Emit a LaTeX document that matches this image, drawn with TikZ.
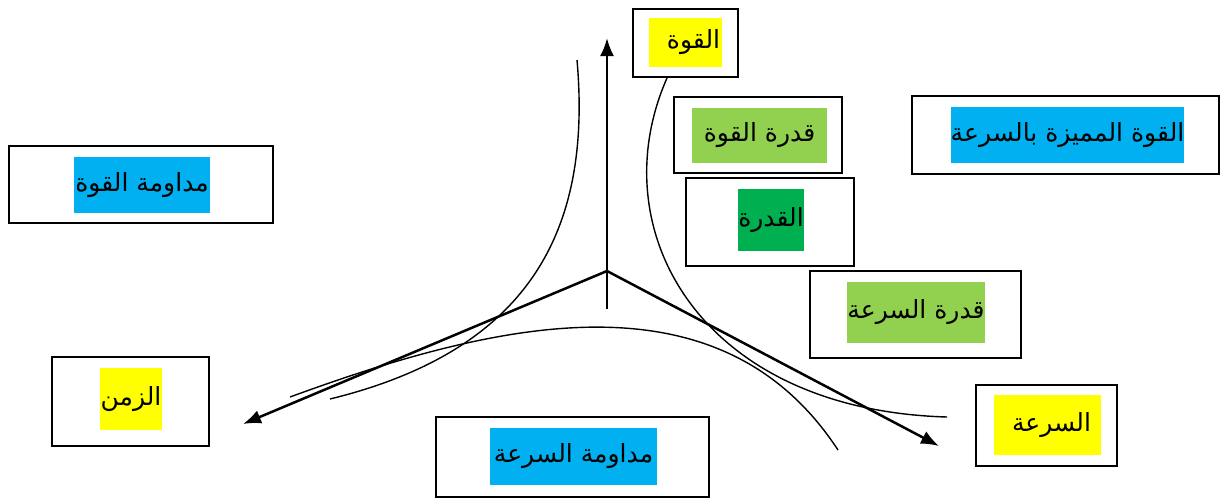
\documentclass[tikz,border=0pt]{standalone}
\usepackage{fontspec}
\usepackage{xcolor}
\usetikzlibrary{arrows.meta}
\TeXXeTstate=1
\newfontfamily\arabicfont[Script=Arabic]{DejaVu Sans}
\definecolor{hlyellow}{HTML}{FFFF00}
\definecolor{hllime}{HTML}{92D050}
\definecolor{hlgreen}{HTML}{00B050}
\definecolor{hlcyan}{HTML}{00B0F0}

\tikzset{
  frame/.style 2 args={draw, line width=1pt, minimum width=#1, minimum height=#2, inner sep=0pt},
  hilite/.style n args={3}{fill=#1, minimum width=#2, minimum height=#3, inner sep=0pt,
    font=\arabicfont\fontsize{12.5}{15}\selectfont},
  axis/.style={line width=1.25pt, -{Latex[length=9pt,width=7pt]}},
  curve/.style={line width=0.7pt}
}

\begin{document}
\begin{tikzpicture}[x=0.5pt, y=-0.5pt]
                  \useasboundingbox (0, 0) rectangle (1224, 498);

                  \coordinate (O) at (607, 271);
                  \coordinate (foot) at (607, 309);
                  \coordinate (up) at (607, 38);
                  \coordinate (left) at (243, 424);
                  \coordinate (right) at (939, 446);

                  \draw[curve] (577, 60) .. controls (592, 230) and (530, 350) .. (330, 399);
                  \draw[curve] (290, 397) .. controls (500, 320) and (720, 270) .. (838, 450);
                  \draw[curve] (667, 78) .. controls (600, 230) and (700, 410) .. (947, 417);

                  \draw[axis] (foot) -- (up);
                  \draw[axis] (O) -- (left);
                  \draw[axis] (O) -- (right);

                  \node[frame={52.5pt}{34pt}] (kuwwa) at (685.5, 43) {};
                  \node[hilite={hlyellow}{36.5pt}{24.5pt}] (kuwwaT) at (685.5, 42.5) {\hspace*{8pt}\beginR القوة\endR};

                  \node[frame={84pt}{38pt}] (qudratKuwwa) at (758, 135) {};
                  \node[hilite={hllime}{67.5pt}{27.5pt}] (qudratKuwwaT) at (759.5, 135.5) {\beginR قدرة القوة\endR};

                  \node[frame={84pt}{44pt}] (qudra) at (770, 222) {};
                  \node[hilite={hlgreen}{29pt}{31pt}] (qudraT) at (771, 220) {\beginR القدرة\endR};

                  \node[frame={153.5pt}{39pt}] (mumayyaza) at (1065.5, 135) {};
                  \node[hilite={hlcyan}{116.5pt}{28pt}] (mumayyazaT) at (1067.5, 135) {\beginR القوة المميزة بالسرعة\endR};

                  \node[frame={132pt}{38.5pt}] (mudawamaKuwwa) at (141, 184.5) {};
                  \node[hilite={hlcyan}{68pt}{28pt}] (mudawamaKuwwaT) at (142, 185) {\beginR مداومة القوة\endR};

                  \node[frame={78.5pt}{44.5pt}] (zaman) at (130.5, 401.5) {};
                  \node[hilite={hlyellow}{31pt}{31pt}] (zamanT) at (131, 399) {\beginR الزمن\endR};

                  \node[frame={136.5pt}{40pt}] (mudawamaSura) at (572.5, 457) {};
                  \node[hilite={hlcyan}{83.5pt}{28.5pt}] (mudawamaSuraT) at (573.5, 456.5) {\beginR مداومة السرعة\endR};

                  \node[frame={105.5pt}{43.5pt}] (qudratSura) at (915.5, 314.5) {};
                  \node[hilite={hllime}{66pt}{30.5pt}] (qudratSuraT) at (916, 312.5) {\beginR قدرة السرعة\endR};

                  \node[frame={70.5pt}{40.5pt}] (sura) at (1046.5, 425.5) {};
                  \node[hilite={hlyellow}{53.5pt}{30pt}] (suraT) at (1047.5, 425) {\hspace*{4pt}\beginR السرعة\endR};
\end{tikzpicture}
\end{document}
